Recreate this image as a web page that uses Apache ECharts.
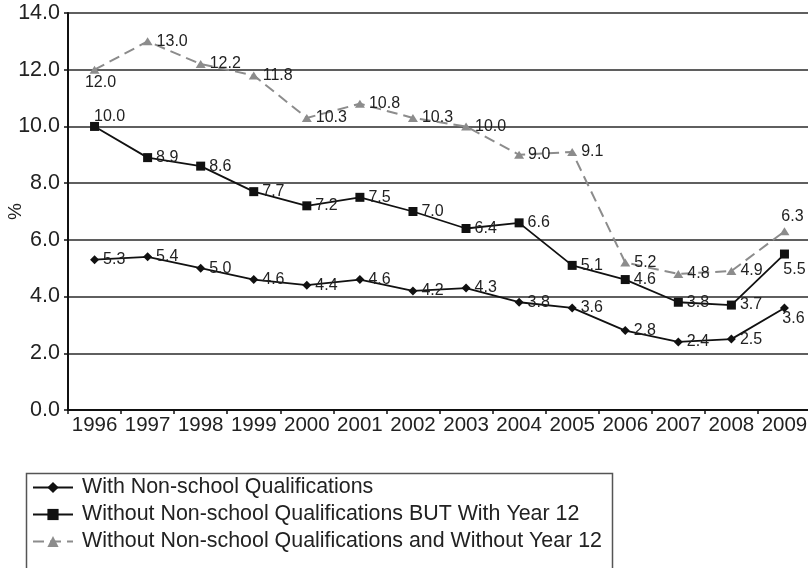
<!DOCTYPE html>
<html>
<head>
<meta charset="utf-8">
<script src="https://cdn.jsdelivr.net/npm/echarts@6/dist/echarts.min.js"></script>
<style>
  html, body { margin: 0; padding: 0; background: #fff; }
  #chart { width: 808px; height: 568px; }
</style>
</head>
<body>
<div id="chart"></div>
<script>
// Years on the category axis
const years = ['1996', '1997', '1998', '1999', '2000', '2001', '2002',
               '2003', '2004', '2005', '2006', '2007', '2008', '2009'];

// Rates (%) per group
const withNonSchool = [5.3, 5.4, 5.0, 4.6, 4.4, 4.6, 4.2, 4.3, 3.8, 3.6, 2.8, 2.4, 2.5, 3.6];
const withoutNonSchoolWithY12 = [10.0, 8.9, 8.6, 7.7, 7.2, 7.5, 7.0, 6.4, 6.6, 5.1, 4.6, 3.8, 3.7, 5.5];
const withoutNonSchoolWithoutY12 = [12.0, 13.0, 12.2, 11.8, 10.3, 10.8, 10.3, 10.0, 9.0, 9.1, 5.2, 4.8, 4.9, 6.3];

// Y axis ticks
const yTicks = [0, 2, 4, 6, 8, 10, 12, 14];

const seriesNames = [
  'With Non-school Qualifications',
  'Without Non-school Qualifications BUT With Year 12',
  'Without Non-school Qualifications and Without Year 12'
];

const FONT = "'Liberation Sans', Arial, Helvetica, sans-serif";

// Per-point label placement where the default (right of the marker) would collide
const labelTweaks = [
  { 13: { position: 'bottom', distance: 0, offset: [9, -2] } },
  { 0: { position: 'right', offset: [-9, -10] },
    13: { position: 'bottom', distance: 3, offset: [10, 0] } },
  { 0: { position: 'bottom', distance: 1, offset: [6, 0] },
    13: { position: 'top', distance: 3, offset: [8, 0] } }
];

function buildData(values, tweaks) {
  return values.map((v, i) => tweaks[i] ? { value: v, label: tweaks[i] } : v);
}

const baseLabel = {
  show: true,
  position: 'right',
  distance: 4,
  fontFamily: FONT,
  fontSize: 16,
  color: '#222',
  formatter: p => Number(p.value).toFixed(1)
};

const chart = echarts.init(document.getElementById('chart'), null, { renderer: 'canvas' });

chart.setOption({
  animation: false,
  backgroundColor: '#fff',
  textStyle: { fontFamily: FONT },
  grid: { left: 68, right: -3, top: 13, bottom: 158, containLabel: false, outerBoundsMode: 'none' },
  xAxis: {
    type: 'category',
    data: years,
    boundaryGap: true,
    axisLine: { lineStyle: { color: '#111', width: 2 } },
    axisTick: { show: true, length: 4, alignWithLabel: false, lineStyle: { color: '#111', width: 1.5 } },
    axisLabel: { interval: 0, fontFamily: FONT, fontSize: 20.5, color: '#222', margin: 5, hideOverlap: false },
    splitLine: { show: false }
  },
  yAxis: {
    type: 'value',
    min: yTicks[0],
    max: yTicks[yTicks.length - 1],
    interval: yTicks[1] - yTicks[0],
    name: '%',
    nameLocation: 'middle',
    nameGap: 43,
    nameMoveOverlap: false,
    nameTextStyle: { fontFamily: FONT, fontSize: 19, color: '#222' },
    axisLine: { show: true, lineStyle: { color: '#111', width: 2 } },
    axisTick: { show: true, length: 4, lineStyle: { color: '#111', width: 1.5 } },
    axisLabel: { fontFamily: FONT, fontSize: 21.5, color: '#222', margin: 8,
                 formatter: v => v.toFixed(1) },
    splitLine: { show: true, lineStyle: { color: '#2a2a2a', width: 1.5 } }
  },
  legend: {
    orient: 'vertical',
    left: 25,
    top: 477,
    padding: [0, 0, 0, 7],
    itemWidth: 40,
    itemHeight: 14,
    itemGap: 6,
    textStyle: { fontFamily: FONT, fontSize: 21.4, color: '#222', lineHeight: 21, padding: [0, 0, 0, 4] },
    data: seriesNames
  },
  graphic: [{
    type: 'rect',
    left: 24, top: 471,
    shape: { width: 586, height: 110 },
    style: { fill: 'none', stroke: '#555', lineWidth: 1.5 },
    silent: true
  }],
  series: [
    {
      name: seriesNames[0],
      type: 'line',
      data: buildData(withNonSchool, labelTweaks[0]),
      symbol: 'diamond',
      symbolSize: [9, 9],
      lineStyle: { color: '#111', width: 1.8 },
      itemStyle: { color: '#111' },
      label: baseLabel,
      z: 3
    },
    {
      name: seriesNames[1],
      type: 'line',
      data: buildData(withoutNonSchoolWithY12, labelTweaks[1]),
      symbol: 'rect',
      symbolSize: 9,
      lineStyle: { color: '#111', width: 1.8 },
      itemStyle: { color: '#111' },
      label: baseLabel,
      z: 3
    },
    {
      name: seriesNames[2],
      type: 'line',
      data: buildData(withoutNonSchoolWithoutY12, labelTweaks[2]),
      symbol: 'triangle',
      symbolSize: [10, 8],
      lineStyle: { color: '#8c8c8c', width: 2, type: [11, 6] },
      itemStyle: { color: '#8c8c8c' },
      label: baseLabel,
      z: 3
    }
  ]
});
</script>
</body>
</html>
